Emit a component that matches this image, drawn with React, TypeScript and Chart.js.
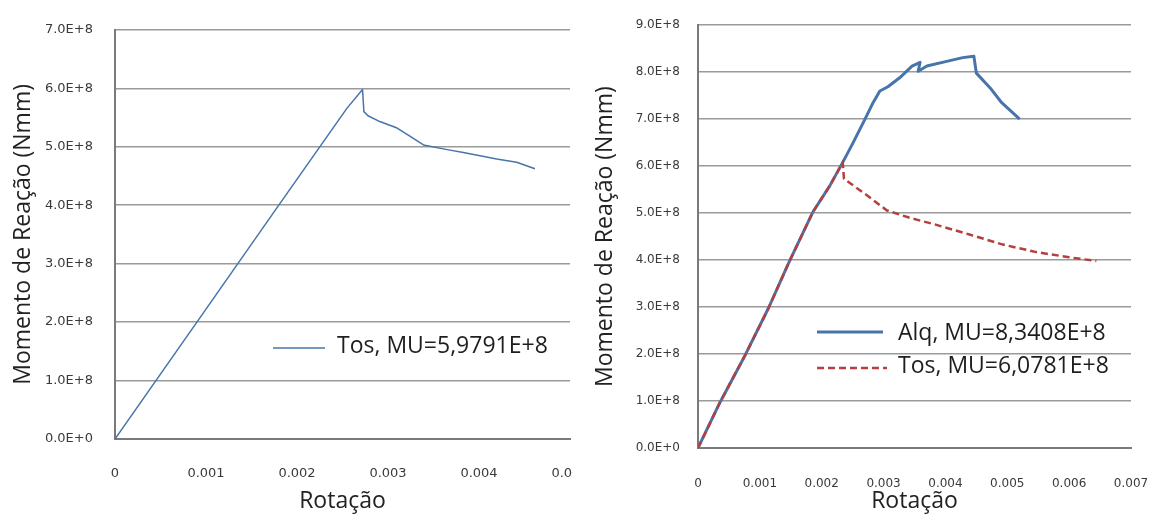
import React, { useEffect, useRef } from 'react';
import { Chart, registerables } from 'chart.js';

Chart.register(...registerables);

// ---------- Left chart data ----------
const leftTosRotation = [0, 0.0009, 0.0018, 0.00255, 0.00272, 0.002735, 0.00278, 0.00291, 0.0031, 0.00324, 0.00339, 0.00365, 0.003828, 0.004194, 0.004414, 0.004615];
const leftTosMoment = [0, 2.0e8, 4.0e8, 5.66e8, 5.979e8, 5.6e8, 5.53e8, 5.43e8, 5.32e8, 5.18e8, 5.03e8, 4.95e8, 4.9e8, 4.788e8, 4.733e8, 4.622e8];
const leftTosLabel = 'Tos, MU=5,9791E+8';
const leftXTickLabels = ['0', '0.001', '0.002', '0.003', '0.004', '0.005'];
const leftYTickLabels = ['0.0E+0', '1.0E+8', '2.0E+8', '3.0E+8', '4.0E+8', '5.0E+8', '6.0E+8', '7.0E+8'];

// ---------- Right chart data ----------
const rightAlqRotation = [0, 0.000355, 0.00076, 0.00114, 0.00147, 0.00186, 0.00213, 0.00234, 0.0025, 0.0027, 0.00283, 0.00294, 0.00307, 0.00326, 0.00346, 0.00359, 0.00356, 0.0037, 0.00402, 0.00428, 0.00446, 0.0045, 0.00472, 0.00491, 0.0052];
const rightAlqMoment = [0, 0.97e8, 1.97e8, 2.98e8, 3.95e8, 5.03e8, 5.58e8, 6.08e8, 6.48e8, 7.0e8, 7.35e8, 7.6e8, 7.69e8, 7.88e8, 8.13e8, 8.21e8, 8.02e8, 8.13e8, 8.23e8, 8.31e8, 8.3408e8, 7.98e8, 7.67e8, 7.35e8, 7.0e8];
const rightTosRotation = [0, 0.000355, 0.00076, 0.00114, 0.00147, 0.00186, 0.00213, 0.00234, 0.00236, 0.00273, 0.00305, 0.00342, 0.0038, 0.0044, 0.00493, 0.00547, 0.006, 0.00644];
const rightTosMoment = [0, 0.97e8, 1.97e8, 2.98e8, 3.95e8, 5.03e8, 5.58e8, 6.0781e8, 5.73e8, 5.38e8, 5.06e8, 4.9e8, 4.77e8, 4.54e8, 4.33e8, 4.17e8, 4.06e8, 3.98e8];
const rightAlqLabel = 'Alq, MU=8,3408E+8';
const rightTosLabel = 'Tos, MU=6,0781E+8';
const rightXTickLabels = ['0', '0.001', '0.002', '0.003', '0.004', '0.005', '0.006', '0.007'];
const rightYTickLabels = ['0.0E+0', '1.0E+8', '2.0E+8', '3.0E+8', '4.0E+8', '5.0E+8', '6.0E+8', '7.0E+8', '8.0E+8', '9.0E+8'];

const yTitle = 'Momento de Reação (Nmm)';
const xTitle = 'Rotação';

const BLUE = '#4774aa';
const RED = '#b3403e';

const toPoints = (xs: number[], ys: number[]) => xs.map((x, i) => ({ x, y: ys[i] }));

type LegendItem = { datasetIndex: number; x1: number; x2: number; lineY: number; textX: number; textY: number };

const makeLegend = (items: LegendItem[]) => ({
  id: 'inlineLegend',
  afterDraw(chart: any) {
    const ctx = chart.ctx as CanvasRenderingContext2D;
    ctx.save();
    items.forEach((it) => {
      const ds: any = chart.data.datasets[it.datasetIndex];
      ctx.beginPath();
      ctx.strokeStyle = ds.borderColor;
      ctx.lineWidth = ds.borderWidth;
      ctx.setLineDash(ds.borderDash || []);
      ctx.moveTo(it.x1, it.lineY);
      ctx.lineTo(it.x2, it.lineY);
      ctx.stroke();
      ctx.setLineDash([]);
      ctx.fillStyle = '#1e1e1e';
      ctx.font = '23px "Open Sans"';
      ctx.textBaseline = 'middle';
      ctx.textAlign = 'left';
      ctx.fillText(ds.label, it.textX, it.textY);
    });
    ctx.restore();
  },
});

type Cfg = {
  datasets: any[];
  xMax: number;
  yMax: number;
  xLabels: string[];
  yLabels: string[];
  yScaleWidth: number;
  xScaleHeight: number;
  padTop: number;
  padRight: number;
  yTitlePad: number;
  tickFontSize: number;
  yTickPad: number;
  xTickPad: number;
  legend: LegendItem[];
};

function buildChart(canvas: HTMLCanvasElement, c: Cfg) {
  return new Chart(canvas, {
    type: 'line',
    data: { datasets: c.datasets },
    plugins: [makeLegend(c.legend)],
    options: {
      animation: false,
      responsive: false,
      events: [],
      layout: { padding: { top: c.padTop, right: c.padRight, left: 0, bottom: 0 } },
      elements: { point: { radius: 0 }, line: { tension: 0 } },
      plugins: { legend: { display: false }, tooltip: { enabled: false } },
      scales: {
        x: {
          type: 'linear',
          min: 0,
          max: c.xMax,
          grid: { display: false, drawTicks: false },
          border: { display: true, color: '#7a7a7a', width: 2 },
          ticks: {
            stepSize: 0.001,
            autoSkip: false,
            maxRotation: 0,
            padding: c.xTickPad,
            color: '#3a3a3a',
            font: { family: 'DejaVu Sans', size: c.tickFontSize },
            callback: (_v: any, i: number) => c.xLabels[i],
          },
          title: {
            display: true,
            text: xTitle,
            color: '#222',
            font: { family: 'Open Sans', size: 23 },
            padding: { top: 0, bottom: 4 },
          },
          afterFit: (s: any) => {
            s.height = c.xScaleHeight;
            s.paddingLeft = 0;
            s.paddingRight = 0;
          },
        },
        y: {
          type: 'linear',
          min: 0,
          max: c.yMax,
          grid: { display: true, drawTicks: false, color: '#9a9a9a', lineWidth: 1.5 },
          border: { display: true, color: '#7a7a7a', width: 2 },
          ticks: {
            stepSize: 1e8,
            autoSkip: false,
            padding: c.yTickPad,
            color: '#3a3a3a',
            font: { family: 'DejaVu Sans', size: c.tickFontSize },
            callback: (_v: any, i: number) => c.yLabels[i],
          },
          title: {
            display: true,
            text: yTitle,
            color: '#222',
            font: { family: 'Open Sans', size: 23 },
            padding: { top: c.yTitlePad, bottom: 0 },
          },
          afterFit: (s: any) => {
            s.width = c.yScaleWidth;
          },
        },
      },
    } as any,
  });
}

export default function App() {
  const leftRef = useRef<HTMLCanvasElement | null>(null);
  const rightRef = useRef<HTMLCanvasElement | null>(null);

  useEffect(() => {
    const left = buildChart(leftRef.current!, {
      datasets: [
        {
          label: leftTosLabel,
          data: toPoints(leftTosRotation, leftTosMoment),
          borderColor: BLUE,
          borderWidth: 1.5,
          fill: false,
          borderJoinStyle: 'round',
        },
      ],
      xMax: 0.005,
      yMax: 7e8,
      xLabels: leftXTickLabels,
      yLabels: leftYTickLabels,
      yScaleWidth: 115,
      xScaleHeight: 80,
      padTop: 19,
      padRight: 3,
      yTitlePad: 10,
      tickFontSize: 13,
      yTickPad: 22,
      xTickPad: 27,
      legend: [{ datasetIndex: 0, x1: 273, x2: 325, lineY: 348, textX: 337, textY: 346 }],
    });

    const right = buildChart(rightRef.current!, {
      datasets: [
        {
          label: rightAlqLabel,
          data: toPoints(rightAlqRotation, rightAlqMoment),
          borderColor: BLUE,
          borderWidth: 3,
          fill: false,
          order: 2,
          borderJoinStyle: 'round',
        },
        {
          label: rightTosLabel,
          data: toPoints(rightTosRotation, rightTosMoment),
          borderColor: RED,
          borderWidth: 2.5,
          borderDash: [7, 4],
          fill: false,
          order: 1,
        },
      ],
      xMax: 0.007,
      yMax: 9e8,
      xLabels: rightXTickLabels,
      yLabels: rightYTickLabels,
      yScaleWidth: 121,
      xScaleHeight: 71,
      padTop: 16,
      padRight: 23,
      yTitlePad: 15,
      tickFontSize: 12,
      yTickPad: 18,
      xTickPad: 29,
      legend: [
        { datasetIndex: 0, x1: 240, x2: 306, lineY: 332, textX: 321, textY: 333 },
        { datasetIndex: 1, x1: 240, x2: 310, lineY: 368, textX: 321, textY: 366 },
      ],
    });

    return () => {
      left.destroy();
      right.destroy();
    };
  }, []);

  return (
    <div style={{ position: 'absolute', left: 0, top: 0, width: 1154, height: 519, background: '#fff', overflow: 'hidden' }}>
      <canvas ref={leftRef} width={573} height={519} style={{ position: 'absolute', left: 0, top: 0, width: 573, height: 519 }} />
      <canvas ref={rightRef} width={577} height={519} style={{ position: 'absolute', left: 577, top: 0, width: 577, height: 519 }} />
    </div>
  );
}
